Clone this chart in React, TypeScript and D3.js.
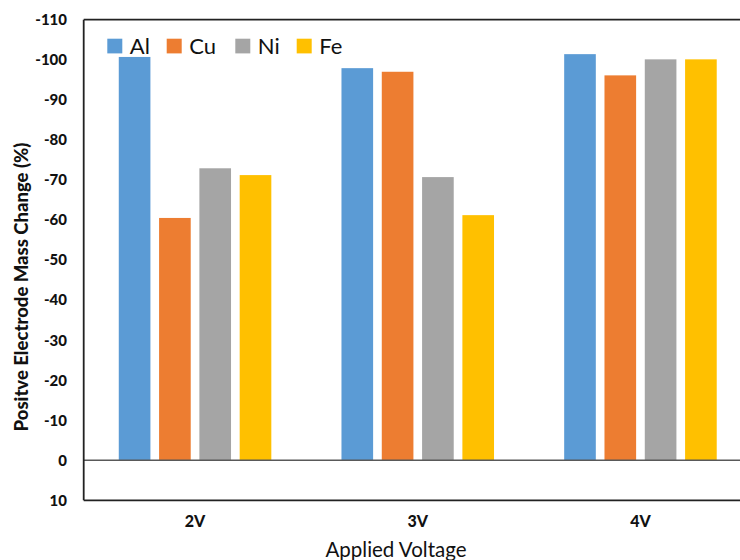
import React from "react";
import * as d3 from "d3";

const categories = ["2V", "3V", "4V"];
const seriesNames = ["Al", "Cu", "Ni", "Fe"];
const alValues = [-100.7, -97.9, -101.4];
const cuValues = [-60.5, -97.0, -96.1];
const niValues = [-72.9, -70.7, -100.1];
const feValues = [-71.2, -61.2, -100.1];
const yTicks = [10, 0, -10, -20, -30, -40, -50, -60, -70, -80, -90, -100, -110];
const colors = ["#5B9BD5", "#ED7D31", "#A5A5A5", "#FFC000"];

const W = 740;
const H = 560;
const left = 83.7;
const right = 751.8;
const top = 19.7;
const bottom = 500.3;
const FONT = "Lato, 'Open Sans', sans-serif";

export default function App() {
  const series = [alValues, cuValues, niValues, feValues];
  const x = d3.scaleBand<string>().domain(categories).range([left, right]).padding(0);
  const y = d3.scaleLinear().domain([10, -110]).range([bottom, top]);
  const groupW = x.bandwidth() * 0.685;
  const inner = d3
    .scaleBand<string>()
    .domain(seriesNames)
    .range([0, groupW])
    .paddingInner(0.215)
    .paddingOuter(0);

  return (
    <svg
      width={W}
      height={H}
      style={{ position: "absolute", left: 0, top: 0, background: "#fff" }}
    >
      {categories.map((c, ci) => {
        const gx = (x(c) as number) + (x.bandwidth() - groupW) / 2;
        return series.map((vals, si) => {
          const v = vals[ci];
          const y0 = y(0);
          const y1 = y(v);
          return (
            <rect
              key={c + si}
              x={gx + (inner(seriesNames[si]) as number)}
              y={Math.min(y0, y1)}
              width={inner.bandwidth()}
              height={Math.abs(y1 - y0)}
              fill={colors[si]}
            />
          );
        });
      })}
      <line x1={left} x2={W} y1={y(0)} y2={y(0)} stroke="#595959" strokeWidth={1.3} />
      <line x1={left} x2={W} y1={top} y2={top} stroke="#222" strokeWidth={1.8} />
      <line x1={left} x2={W} y1={bottom} y2={bottom} stroke="#222" strokeWidth={1.8} />
      <line x1={left} x2={left} y1={top} y2={bottom} stroke="#222" strokeWidth={1.8} />
      {yTicks.map((t) => (
        <text
          key={t}
          x={67}
          y={y(t)}
          dy="0.36em"
          textAnchor="end"
          fontFamily={FONT}
          fontWeight="900"
          fontSize={15}
          fill="#111"
        >
          {t}
        </text>
      ))}
      {categories.map((c) => (
        <text
          key={c}
          x={(x(c) as number) + x.bandwidth() / 2}
          y={527}
          textAnchor="middle"
          fontFamily={FONT}
          fontWeight="900"
          fontSize={16}
          fill="#111"
        >
          {c}
        </text>
      ))}
      <text
        x={396}
        y={557}
        textAnchor="middle"
        fontFamily={FONT}
        fontSize={20.5}
        fill="#111"
      >
        Applied Voltage
      </text>
      <text
        transform={`translate(28,287) rotate(-90)`}
        textAnchor="middle"
        fontFamily={FONT}
        fontWeight="900"
        fontSize={18.5}
        fill="#111"
      >
        Positve Electrode Mass Change (%)
      </text>
      {seriesNames.map((s, i) => {
        const lx = [107.3, 166.7, 235.3, 296.7][i];
        return (
          <g key={s}>
            <rect x={lx} y={38.7} width={15} height={14.7} fill={colors[i]} />
            <text
              x={lx + 22.5}
              y={54.3}
              fontFamily={FONT}
              fontSize={22}
              fill="#111"
            >
              {s}
            </text>
          </g>
        );
      })}
    </svg>
  );
}
